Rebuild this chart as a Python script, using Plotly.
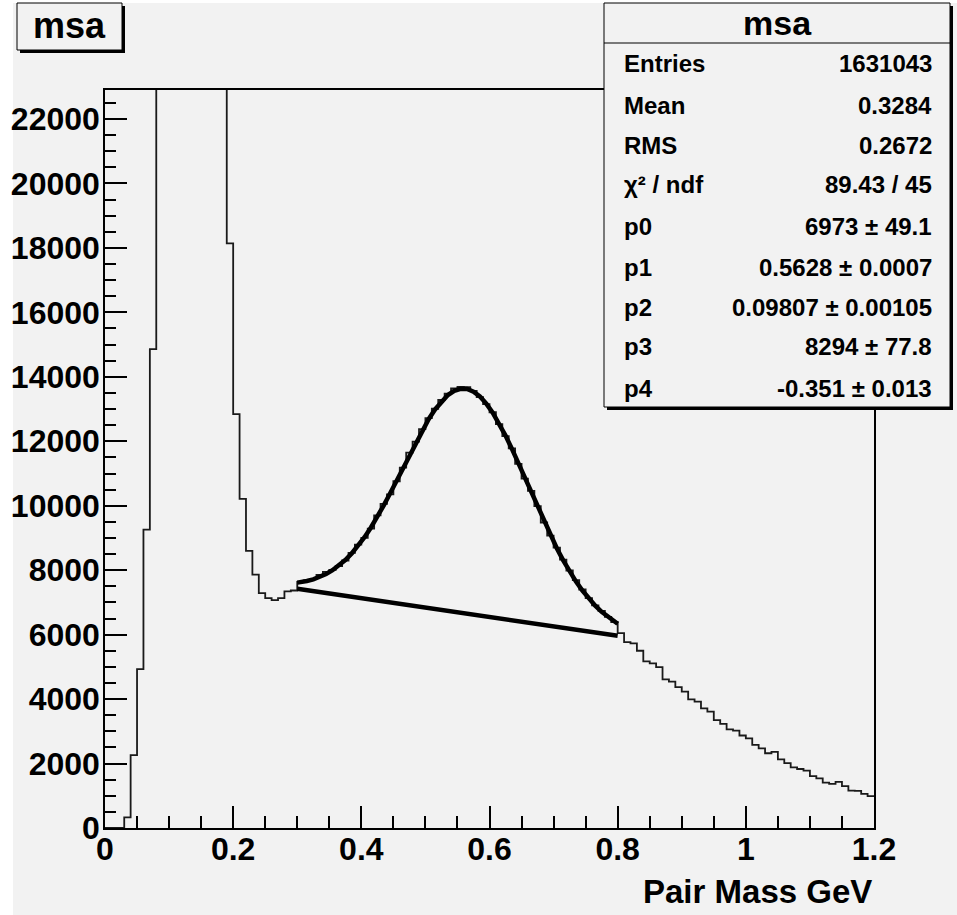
import plotly.graph_objects as go

# histogram "msa": 120 bins of 0.01 GeV, left bin edges and contents
bin_lo = [round(0.01 * i, 2) for i in range(120)]
counts = [
    0, 0, 0, 330, 2260, 4930, 9260, 14860, 32000, 58000,
    85000, 104000, 112000, 108000, 98000, 84000, 66000, 46000, 28000, 18140,
    12840, 10210, 8600, 7860, 7290, 7130, 7070, 7130, 7340, 7370,
    7640, 7680, 7730, 7850, 7950, 8010, 8130, 8300, 8540, 8790,
    9000, 9290, 9700, 10060, 10350, 10760, 11180, 11650, 11990, 12380,
    12720, 13010, 13280, 13480, 13640, 13690, 13680, 13560, 13370, 13150,
    12900, 12530, 12160, 11780, 11300, 10840, 10460, 9990, 9480, 9070,
    8700, 8330, 7990, 7690, 7400, 7130, 6910, 6740, 6550, 6390,
    6050, 5770, 5730, 5500, 5170, 5110, 4990, 4610, 4540, 4370,
    4230, 3990, 3920, 3710, 3610, 3350, 3230, 3060, 3020, 2870,
    2780, 2580, 2470, 2320, 2360, 2130, 2010, 1880, 1830, 1780,
    1610, 1540, 1410, 1370, 1430, 1300, 1160, 1150, 1060, 990,
]

# fit curve (gauss + linear background) over 0.3 - 0.8
fit_x = [0.30] + [round(0.305 + 0.01 * i, 3) for i in range(50)] + [0.80]
fit_y = [
    7614, 7626, 7663, 7717, 7788, 7882, 7999, 8144, 8317, 8521, 8757,
    9026, 9326, 9655, 10011, 10388, 10780, 11181, 11582, 11973, 12344,
    12685, 12987, 13239, 13435, 13567, 13629, 13621, 13539, 13388, 13169,
    12889, 12556, 12177, 11763, 11324, 10869, 10409, 9953, 9508, 9082,
    8679, 8304, 7959, 7647, 7367, 7118, 6899, 6709, 6544, 6402, 6339,
]
bg_x = [0.30, 0.80]
bg_y = [7421, 5965]

# stats box rows
stat_names = ["Entries", "Mean", "RMS", "χ² / ndf", "p0", "p1", "p2", "p3", "p4"]
stat_values = ["1631043", "0.3284", "0.2672", "89.43 / 45", "6973 ± 49.1",
               "0.5628 ± 0.0007", "0.09807 ± 0.00105", "8294 ± 77.8",
               "-0.351 ± 0.013"]

W, H = 957, 915
ML, MR, MT, MB = 105, 83, 90, 87
FONT = "Liberation Sans"
BG = "#f2f2f2"


def px(x):
    return (x - ML) / (W - ML - MR)


def py(y):
    return (H - MB - y) / (H - MT - MB)


fig = go.Figure()

fig.add_trace(go.Scatter(
    x=bin_lo + [1.2], y=counts + [counts[-1]],
    mode="lines", line=dict(color="#1a1a1a", width=1.8, shape="hv"),
    hoverinfo="skip"))
fig.add_trace(go.Scatter(
    x=fit_x, y=fit_y, mode="lines",
    line=dict(color="black", width=4.5), hoverinfo="skip"))
fig.add_trace(go.Scatter(
    x=bg_x, y=bg_y, mode="lines",
    line=dict(color="black", width=4.5), hoverinfo="skip"))

shapes = [
    # white margin of the canvas
    dict(type="rect", xref="paper", yref="paper", x0=px(0), x1=px(13),
         y0=py(H), y1=py(0), fillcolor="white", line_width=0, layer="below"),
    dict(type="rect", xref="paper", yref="paper", x0=px(0), x1=px(W),
         y0=py(3), y1=py(0), fillcolor="white", line_width=0, layer="below"),
]


def box(x0, y0, x1, y1, off):
    # shadow then framed box
    return [
        dict(type="rect", xref="paper", yref="paper", x0=px(x0 + off), x1=px(x1 + off),
             y0=py(y1 + off), y1=py(y0 + off), fillcolor="black", line_width=0,
             layer="above"),
        dict(type="rect", xref="paper", yref="paper", x0=px(x0), x1=px(x1),
             y0=py(y1), y1=py(y0), fillcolor=BG,
             line=dict(color="black", width=1), layer="above"),
    ]


shapes += box(17, 3, 122, 50, 3)
shapes += box(604, 3, 950, 407, 3)
shapes.append(dict(type="line", xref="paper", yref="paper", x0=px(604), x1=px(950),
                   y0=py(43), y1=py(43), line=dict(color="black", width=1),
                   layer="above"))

annotations = [
    dict(text="msa", x=px(69.5), y=py(25), font=dict(size=36)),
    dict(text="msa", x=px(777), y=py(23), font=dict(size=34)),
    dict(text="Pair Mass GeV", x=px(874), y=py(891), xanchor="right",
         font=dict(size=33)),
]
row_y = [64, 105, 145, 184, 226, 267, 307, 347, 388]
for name, val, yy in zip(stat_names, stat_values, row_y):
    annotations.append(dict(text=name, x=px(622), y=py(yy), xanchor="left",
                            font=dict(size=24)))
    annotations.append(dict(text=val, x=px(934), y=py(yy), xanchor="right",
                            font=dict(size=24)))
for a in annotations:
    a.update(xref="paper", yref="paper", showarrow=False,
             yanchor="middle")
    a.setdefault("xanchor", "center")
    a["font"].update(family=FONT, color="black", weight="bold")

axis_font = dict(family=FONT, size=32, color="black", weight="bold")

fig.update_layout(
    width=W, height=H,
    margin=dict(l=ML, r=MR, t=MT, b=MB, pad=0),
    paper_bgcolor=BG, plot_bgcolor=BG,
    showlegend=False,
    shapes=shapes, annotations=annotations,
    xaxis=dict(range=[0, 1.2], tick0=0, dtick=0.2, ticks="inside", ticklen=22,
               tickwidth=1.5, tickcolor="black", showgrid=False, zeroline=False,
               showline=True, linecolor="black", linewidth=1.5, mirror=True,
               tickfont=axis_font, tickformat="~g", ticklabelstandoff=-8,
               minor=dict(dtick=0.05, ticks="inside", ticklen=12, tickwidth=1.5,
                          tickcolor="black", showgrid=False)),
    yaxis=dict(range=[0, 22900], tick0=0, dtick=2000, ticks="inside", ticklen=22,
               tickwidth=1.5, tickcolor="black", showgrid=False, zeroline=False,
               showline=True, linecolor="black", linewidth=1.5, mirror=True,
               tickfont=axis_font, tickformat="d", ticklabelstandoff=-3,
               minor=dict(dtick=500, ticks="inside", ticklen=11, tickwidth=1.5,
                          tickcolor="black", showgrid=False)),
)

# drop the default page margin so the figure sits at the window corner
fig.write_html("out.html", config={"displayModeBar": False},
               post_script="document.body.style.margin='0';")
